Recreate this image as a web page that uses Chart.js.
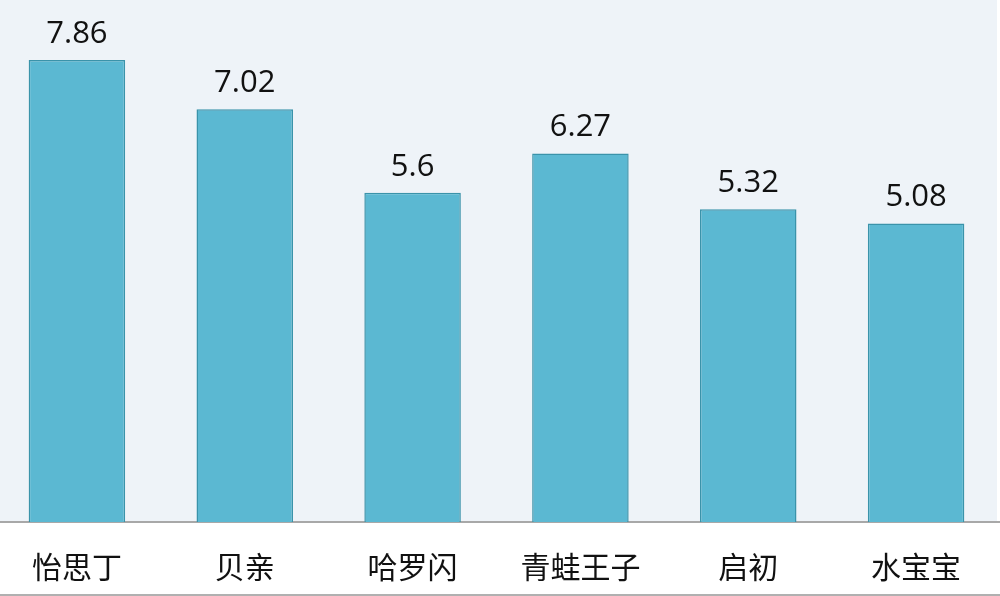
<!DOCTYPE html>
<html>
<head>
<meta charset="utf-8">
<script src="https://cdn.jsdelivr.net/npm/chart.js@4.4.1/dist/chart.umd.min.js"></script>
<style>
  html,body{margin:0;padding:0;background:#fff;overflow:hidden}
  #wrap{position:absolute;left:-7px;top:0;width:1007px;height:596px}
</style>
</head>
<body>
<div id="wrap"><canvas id="c"></canvas></div>
<script>
const brands = ['怡思丁','贝亲','哈罗闪','青蛙王子','启初','水宝宝'];
const scores = [7.86, 7.02, 5.6, 6.27, 5.32, 5.08];

// plot background + bottom rule
const bgPlugin = {
  id: 'bg',
  beforeDraw(chart){
    const {ctx, chartArea:a} = chart;
    ctx.save();
    ctx.fillStyle = '#eef3f8';
    ctx.fillRect(a.left, a.top, a.right - a.left - 3, a.bottom - a.top);
    ctx.strokeStyle = '#b0b0b0';
    ctx.lineWidth = 2;
    ctx.beginPath();
    ctx.moveTo(0, 595); ctx.lineTo(chart.width, 595);
    ctx.stroke();
    ctx.restore();
  }
};

// value labels over each bar
const valuePlugin = {
  id: 'vals',
  afterDatasetsDraw(chart){
    const {ctx} = chart;
    const meta = chart.getDatasetMeta(0);
    ctx.save();
    ctx.font = '31px "Open Sans", sans-serif';
    ctx.fillStyle = '#111';
    ctx.textAlign = 'center';
    ctx.textBaseline = 'alphabetic';
    meta.data.forEach((bar, i) => {
      ctx.fillText(String(scores[i]), bar.x, bar.y - 17);
    });
    ctx.restore();
  }
};

new Chart(document.getElementById('c'), {
  type: 'bar',
  data: {
    labels: brands,
    datasets: [{
      data: scores,
      backgroundColor: '#5bb8d2',
      borderColor: '#3a93aa',
      borderWidth: 1.5,
      categoryPercentage: 1,
      barPercentage: 0.575
    }]
  },
  options: {
    responsive: true,
    maintainAspectRatio: false,
    animation: false,
    layout: { padding: 0 },
    plugins: { legend: { display: false }, tooltip: { enabled: false } },
    scales: {
      x: {
        grid: { display: false, drawTicks: false },
        border: { display: true, color: '#a8a8a8', width: 2 },
        ticks: {
          padding: 27,
          color: '#111',
          font: { family: '"Noto Sans CJK SC", sans-serif', size: 30, lineHeight: 1.2 }
        },
        afterFit(scale){ scale.height = 74; }
      },
      y: {
        display: false,
        min: 0,
        max: 8.88
      }
    }
  },
  plugins: [bgPlugin, valuePlugin]
});
</script>
</body>
</html>
